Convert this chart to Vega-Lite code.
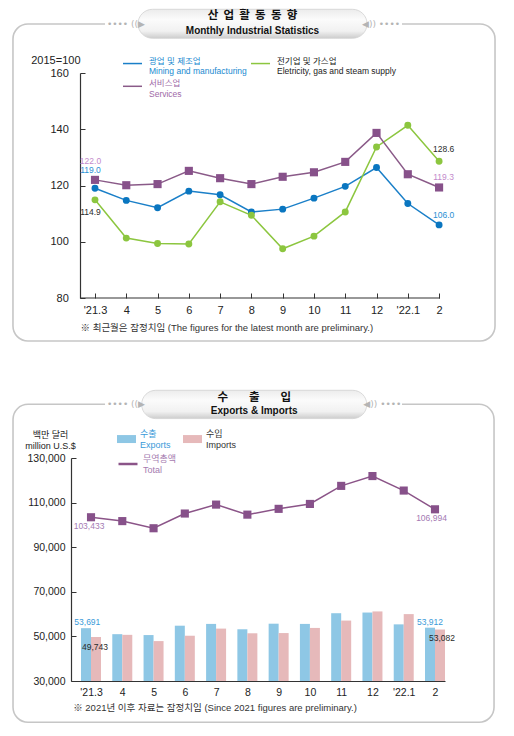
{
  "$schema": "https://vega.github.io/schema/vega-lite/v6.json",
  "background": "white",
  "autosize": {"type": "none"},
  "padding": {"left": 71, "top": 73, "right": 443, "bottom": 663},
  "bounds": "flush",
  "spacing": 160,
  "resolve": {
    "scale": {"fill": "independent", "stroke": "independent", "color": "independent"},
    "legend": {"fill": "independent", "stroke": "independent", "color": "independent"}
  },
  "config": {
    "view": {"stroke": null},
    "axis": {
      "grid": false,
      "domainColor": "#333333",
      "domainWidth": 1.2,
      "tickColor": "#333333",
      "labelColor": "#222222",
      "labelFont": "Liberation Sans, Noto Sans CJK KR",
      "titleFont": "Liberation Sans, Noto Sans CJK KR",
      "titleColor": "#222222",
      "titleFontWeight": "normal"
    },
    "legend": {"labelFont": "Liberation Sans, Noto Sans CJK KR, sans-serif"}
  },
  "datasets": {
    "industry": [
      {"m": "'21.3", "t": 0, "series": "Mining", "v": 119.0},
      {"m": "4", "t": 1, "series": "Mining", "v": 114.7},
      {"m": "5", "t": 2, "series": "Mining", "v": 112.1},
      {"m": "6", "t": 3, "series": "Mining", "v": 118.0},
      {"m": "7", "t": 4, "series": "Mining", "v": 116.7},
      {"m": "8", "t": 5, "series": "Mining", "v": 110.6},
      {"m": "9", "t": 6, "series": "Mining", "v": 111.6},
      {"m": "10", "t": 7, "series": "Mining", "v": 115.5},
      {"m": "11", "t": 8, "series": "Mining", "v": 119.7},
      {"m": "12", "t": 9, "series": "Mining", "v": 126.4},
      {"m": "'22.1", "t": 10, "series": "Mining", "v": 113.6},
      {"m": "2", "t": 11, "series": "Mining", "v": 106.0},
      {"m": "'21.3", "t": 0, "series": "Electricity", "v": 114.9},
      {"m": "4", "t": 1, "series": "Electricity", "v": 101.3},
      {"m": "5", "t": 2, "series": "Electricity", "v": 99.4},
      {"m": "6", "t": 3, "series": "Electricity", "v": 99.2},
      {"m": "7", "t": 4, "series": "Electricity", "v": 114.2},
      {"m": "8", "t": 5, "series": "Electricity", "v": 109.4},
      {"m": "9", "t": 6, "series": "Electricity", "v": 97.5},
      {"m": "10", "t": 7, "series": "Electricity", "v": 102.0},
      {"m": "11", "t": 8, "series": "Electricity", "v": 110.6},
      {"m": "12", "t": 9, "series": "Electricity", "v": 133.7},
      {"m": "'22.1", "t": 10, "series": "Electricity", "v": 141.4},
      {"m": "2", "t": 11, "series": "Electricity", "v": 128.6},
      {"m": "'21.3", "t": 0, "series": "Services", "v": 122.0},
      {"m": "4", "t": 1, "series": "Services", "v": 120.1},
      {"m": "5", "t": 2, "series": "Services", "v": 120.5},
      {"m": "6", "t": 3, "series": "Services", "v": 125.2},
      {"m": "7", "t": 4, "series": "Services", "v": 122.6},
      {"m": "8", "t": 5, "series": "Services", "v": 120.5},
      {"m": "9", "t": 6, "series": "Services", "v": 123.1},
      {"m": "10", "t": 7, "series": "Services", "v": 124.7},
      {"m": "11", "t": 8, "series": "Services", "v": 128.4},
      {"m": "12", "t": 9, "series": "Services", "v": 138.7},
      {"m": "'22.1", "t": 10, "series": "Services", "v": 124.0},
      {"m": "2", "t": 11, "series": "Services", "v": 119.3}
    ],
    "trade": [
      {"m": "'21.3", "t": 0, "kind": "Exports", "v": 53691},
      {"m": "4", "t": 1, "kind": "Exports", "v": 51000},
      {"m": "5", "t": 2, "kind": "Exports", "v": 50600},
      {"m": "6", "t": 3, "kind": "Exports", "v": 54800},
      {"m": "7", "t": 4, "kind": "Exports", "v": 55600},
      {"m": "8", "t": 5, "kind": "Exports", "v": 53200},
      {"m": "9", "t": 6, "kind": "Exports", "v": 55700},
      {"m": "10", "t": 7, "kind": "Exports", "v": 55600},
      {"m": "11", "t": 8, "kind": "Exports", "v": 60400},
      {"m": "12", "t": 9, "kind": "Exports", "v": 60700},
      {"m": "'22.1", "t": 10, "kind": "Exports", "v": 55400},
      {"m": "2", "t": 11, "kind": "Exports", "v": 53912},
      {"m": "'21.3", "t": 0, "kind": "Imports", "v": 49743},
      {"m": "4", "t": 1, "kind": "Imports", "v": 50700},
      {"m": "5", "t": 2, "kind": "Imports", "v": 47900},
      {"m": "6", "t": 3, "kind": "Imports", "v": 50300},
      {"m": "7", "t": 4, "kind": "Imports", "v": 53500},
      {"m": "8", "t": 5, "kind": "Imports", "v": 51400},
      {"m": "9", "t": 6, "kind": "Imports", "v": 51500},
      {"m": "10", "t": 7, "kind": "Imports", "v": 53800},
      {"m": "11", "t": 8, "kind": "Imports", "v": 57100},
      {"m": "12", "t": 9, "kind": "Imports", "v": 61200},
      {"m": "'22.1", "t": 10, "kind": "Imports", "v": 60000},
      {"m": "2", "t": 11, "kind": "Imports", "v": 53082}
    ],
    "total": [
      {"m": "'21.3", "t": 0, "series": "Total", "v": 103433},
      {"m": "4", "t": 1, "series": "Total", "v": 101700},
      {"m": "5", "t": 2, "series": "Total", "v": 98500},
      {"m": "6", "t": 3, "series": "Total", "v": 105100},
      {"m": "7", "t": 4, "series": "Total", "v": 109100},
      {"m": "8", "t": 5, "series": "Total", "v": 104600},
      {"m": "9", "t": 6, "series": "Total", "v": 107200},
      {"m": "10", "t": 7, "series": "Total", "v": 109400},
      {"m": "11", "t": 8, "series": "Total", "v": 117500},
      {"m": "12", "t": 9, "series": "Total", "v": 121900},
      {"m": "'22.1", "t": 10, "series": "Total", "v": 115400},
      {"m": "2", "t": 11, "series": "Total", "v": 106994}
    ]
  },
  "vconcat": [
    {
      "width": 374,
      "height": 225,
      "layer": [
        {
          "data": {"name": "industry"},
          "mark": {"type": "line", "strokeWidth": 1.5},
          "encoding": {
            "x": {
              "field": "t",
              "type": "quantitative",
              "scale": {"domain": [-0.767, 11.189], "nice": false, "zero": false, "padding": 0},
              "axis": {
                "values": [0, 1, 2, 3, 4, 5, 6, 7, 8, 9, 10, 11],
                "tickCount": 12,
                "labelExpr": "[\"'21.3\",\"4\",\"5\",\"6\",\"7\",\"8\",\"9\",\"10\",\"11\",\"12\",\"'22.1\",\"2\"][datum.value]",
                "labelFlush": false,
                "labelOverlap": false,
                "labelFontSize": 11,
                "domain": false,
                "tickSize": -5,
                "labelPadding": 11.5,
                "title": "※ 최근월은 잠정치임 (The figures for the latest month are preliminary.)",
                "titleAnchor": "start",
                "titleAlign": "left",
                "titleBaseline": "middle",
                "titleX": 9,
                "titleY": 29,
                "titleFontSize": 9.5,
                "titleColor": "#333333"
              }
            },
            "y": {
              "field": "v",
              "type": "quantitative",
              "scale": {"domain": [80, 160], "nice": false, "zero": false, "padding": 0},
              "axis": {
                "values": [80, 100, 120, 140, 160],
                "tickCount": 5,
                "offset": -9,
                "labelFontSize": 11,
                "tickSize": -5,
                "labelPadding": 16.7,
                "title": "2015=100",
                "titleAngle": 0,
                "titleAlign": "right",
                "titleBaseline": "middle",
                "titleX": 0,
                "titleY": -13,
                "titleFontSize": 11
              }
            },
            "stroke": {
              "field": "series",
              "type": "nominal",
              "scale": {"domain": ["Mining", "Electricity", "Services"], "range": ["#1a7fc8", "#8cc63f", "#8a5a88"]},
              "legend": {
                "orient": "none",
                "legendX": 51,
                "legendY": -20.2,
                "columns": 2,
                "direction": "horizontal",
                "title": null,
                "symbolType": "stroke",
                "symbolSize": 361,
                "symbolStrokeWidth": 1.5,
                "labelOffset": 6,
                "columnPadding": 1,
                "rowPadding": 0,
                "labelFontSize": 8.5,
                "labelLineHeight": 8.5,
                "labelBaseline": "alphabetic",
                "labelLimit": 0,
                "labelExpr": "datum.label == 'Mining' ? ['광업 및 제조업', 'Mining and manufacturing'] : datum.label == 'Electricity' ? ['전기업 및 가스업', 'Eletricity, gas and steam supply'] : ['서비스업', 'Services']",
                "labelColor": {"expr": "datum.label == 'Mining' ? '#1a8ad0' : datum.label == 'Services' ? '#a06aa8' : '#222222'"}
              }
            }
          }
        },
        {
          "data": {"name": "industry"},
          "transform": [{"filter": "datum.series != 'Services'"}],
          "mark": {"type": "circle", "size": 48, "opacity": 1},
          "encoding": {
            "x": {"field": "t", "type": "quantitative"},
            "y": {"field": "v", "type": "quantitative"},
            "fill": {
              "field": "series",
              "type": "nominal",
              "scale": {"domain": ["Mining", "Electricity", "Services"], "range": ["#0a76c0", "#8cc63f", "#87518a"]},
              "legend": null
            }
          }
        },
        {
          "data": {"name": "industry"},
          "transform": [{"filter": "datum.series == 'Services'"}],
          "mark": {"type": "square", "size": 66, "opacity": 1},
          "encoding": {
            "x": {"field": "t", "type": "quantitative"},
            "y": {"field": "v", "type": "quantitative"},
            "fill": {"field": "series", "type": "nominal", "legend": null}
          }
        },
        {
          "data": {"name": "industry"},
          "transform": [{"filter": "datum.t == 0 || datum.t == 11"}],
          "mark": {
            "type": "text",
            "font": "Liberation Sans",
            "fontSize": 8.5,
            "align": "center",
            "baseline": "middle",
            "dx": {"expr": "datum.t == 0 ? -4.5 : 4.5"},
            "dy": {"expr": "datum.t == 0 ? (datum.series == 'Services' ? -19 : datum.series == 'Mining' ? -18 : 12) : (datum.series == 'Electricity' ? -12 : -10)"}
          },
          "encoding": {
            "x": {"field": "t", "type": "quantitative"},
            "y": {"field": "v", "type": "quantitative"},
            "text": {"field": "v", "type": "quantitative", "format": ".1f"},
            "color": {
              "field": "series",
              "type": "nominal",
              "scale": {"domain": ["Mining", "Electricity", "Services"], "range": ["#2b8fd3", "#2a2a2a", "#c38acb"]},
              "legend": null
            }
          }
        },
        {
          "data": {"values": [{}]},
          "mark": {"type": "rule", "color": "#333333", "strokeWidth": 1.2},
          "encoding": {
            "x": {"datum": -0.48, "type": "quantitative"},
            "x2": {"datum": 11.03},
            "y": {"datum": 80, "type": "quantitative"}
          }
        },
        {
          "data": {"values": [{}]},
          "mark": {"type": "rect", "fill": "transparent", "stroke": "#c6c6c6", "strokeWidth": 1.6, "cornerRadius": 15},
          "encoding": {
            "x": {"datum": -2.622, "type": "quantitative"},
            "x2": {"datum": 12.788},
            "y": {"datum": 177.42, "type": "quantitative"},
            "y2": {"datum": 64.71}
          }
        },
        {
          "data": {"values": [{}]},
          "mark": {"type": "rect", "fill": "white"},
          "encoding": {
            "x": {"datum": 0.32, "type": "quantitative"},
            "x2": {"datum": 9.815},
            "y": {"datum": 179.2, "type": "quantitative"},
            "y2": {"datum": 175.64}
          }
        },
        {
          "data": {"values": [{}]},
          "mark": {
            "type": "rect",
            "cornerRadius": 14.5,
            "stroke": "#d2d2d2",
            "strokeWidth": 0.8,
            "fill": {
              "gradient": "linear", "x1": 0, "y1": 0, "x2": 0, "y2": 1,
              "stops": [
                {"offset": 0, "color": "#ececec"},
                {"offset": 0.35, "color": "#fbfbfb"},
                {"offset": 0.75, "color": "#f1f1f1"},
                {"offset": 1, "color": "#cdcdcd"}
              ]
            }
          },
          "encoding": {
            "x": {"datum": 1.375, "type": "quantitative"},
            "x2": {"datum": 8.696},
            "y": {"datum": 182.65, "type": "quantitative"},
            "y2": {"datum": 172.34}
          }
        },
        {
          "data": {"values": [{}]},
          "mark": {"type": "text", "text": "산\u00a0\u00a0업\u00a0\u00a0활\u00a0\u00a0동\u00a0\u00a0동\u00a0\u00a0향", "font": "Noto Sans CJK KR", "fontWeight": "bold", "fontSize": 11.5, "color": "#111111", "align": "center", "baseline": "middle"},
          "encoding": {
            "x": {"datum": 5.035, "type": "quantitative"},
            "y": {"datum": 180.27, "type": "quantitative"}
          }
        },
        {
          "data": {"values": [{}]},
          "mark": {"type": "text", "text": "Monthly Industrial Statistics", "font": "Liberation Sans", "fontWeight": "bold", "fontSize": 10, "color": "#111111", "align": "center", "baseline": "middle"},
          "encoding": {
            "x": {"datum": 5.035, "type": "quantitative"},
            "y": {"datum": 174.93, "type": "quantitative"}
          }
        },
        {
          "data": {"values": [{}]},
          "mark": {"type": "text", "text": "•••• ((▶", "font": "DejaVu Sans", "fontSize": 9, "color": "#b4b4b4", "align": "right", "baseline": "middle"},
          "encoding": {
            "x": {"datum": 1.598, "type": "quantitative"},
            "y": {"datum": 177.42, "type": "quantitative"}
          }
        },
        {
          "data": {"values": [{}]},
          "mark": {"type": "text", "text": "◀)) ••••", "font": "DejaVu Sans", "fontSize": 9, "color": "#b4b4b4", "align": "left", "baseline": "middle"},
          "encoding": {
            "x": {"datum": 8.536, "type": "quantitative"},
            "y": {"datum": 177.42, "type": "quantitative"}
          }
        }
      ]
    },
    {
      "width": 374,
      "height": 223,
      "layer": [
        {
          "data": {"name": "trade"},
          "transform": [{"filter": "datum.kind == 'Exports'"}],
          "mark": {"type": "bar", "width": 10, "xOffset": -5},
          "encoding": {
            "x": {
              "field": "t",
              "type": "quantitative",
              "scale": {"domain": [-0.64, 11.32], "nice": false, "zero": false, "padding": 0},
              "axis": {
                "values": [0, 1, 2, 3, 4, 5, 6, 7, 8, 9, 10, 11],
                "tickCount": 12,
                "labelExpr": "[\"'21.3\",\"4\",\"5\",\"6\",\"7\",\"8\",\"9\",\"10\",\"11\",\"12\",\"'22.1\",\"2\"][datum.value]",
                "labelFlush": false,
                "labelOverlap": false,
                "labelFontSize": 10.5,
                "ticks": false,
                "labelPadding": 6,
                "title": "※ 2021년 이후 자료는 잠정치임 (Since 2021 figures are preliminary.)",
                "titleAnchor": "start",
                "titleAlign": "left",
                "titleBaseline": "middle",
                "titleX": 1.7,
                "titleY": 26,
                "titleFontSize": 9.5,
                "titleColor": "#333333"
              }
            },
            "y": {
              "field": "v",
              "type": "quantitative",
              "scale": {"domain": [30000, 130000], "nice": false, "zero": false, "padding": 0},
              "axis": {
                "values": [30000, 50000, 70000, 90000, 110000, 130000],
                "tickCount": 6,
                "format": ",d",
                "labelFontSize": 10.5,
                "tickSize": -5,
                "labelPadding": 11,
                "title": ["백만 달러", "million U.S.$"],
                "titleAngle": 0,
                "titleAlign": "center",
                "titleBaseline": "middle",
                "titleLineHeight": 11.4,
                "titleX": -21,
                "titleY": -23.4,
                "titleFontSize": 9
              }
            },
            "y2": {"datum": 30000},
            "fill": {
              "field": "kind",
              "type": "nominal",
              "scale": {"domain": ["Exports", "Imports"], "range": ["#8ec7e5", "#e6b9ba"]},
              "legend": {
                "orient": "none",
                "legendX": 46,
                "legendY": -28.7,
                "direction": "horizontal",
                "title": null,
                "symbolType": "M-1,-0.42H1V0.42H-1Z",
                "symbolSize": 361,
                "symbolStrokeWidth": 0,
                "labelOffset": 4,
                "columnPadding": 12,
                "labelFontSize": 9,
                "labelLineHeight": 10,
                "labelBaseline": "bottom",
                "labelExpr": "datum.label == 'Exports' ? ['수출', 'Exports'] : ['수입', 'Imports']",
                "labelColor": {"expr": "datum.label == 'Exports' ? '#3a9ad9' : '#333333'"}
              }
            }
          }
        },
        {
          "data": {"name": "trade"},
          "transform": [{"filter": "datum.kind == 'Imports'"}],
          "mark": {"type": "bar", "width": 10, "xOffset": 5},
          "encoding": {
            "x": {"field": "t", "type": "quantitative"},
            "y": {"field": "v", "type": "quantitative"},
            "y2": {"datum": 30000},
            "fill": {"field": "kind", "type": "nominal"}
          }
        },
        {
          "data": {"name": "total"},
          "mark": {"type": "line", "strokeWidth": 1.5},
          "encoding": {
            "x": {"field": "t", "type": "quantitative"},
            "y": {"field": "v", "type": "quantitative"},
            "stroke": {
              "field": "series",
              "type": "nominal",
              "scale": {"domain": ["Total"], "range": ["#8b5488"]},
              "legend": {
                "orient": "none",
                "legendX": 46,
                "legendY": -5,
                "title": null,
                "symbolType": "stroke",
                "symbolSize": 361,
                "symbolStrokeWidth": 2.5,
                "labelOffset": 4,
                "labelFontSize": 9,
                "labelLineHeight": 10,
                "labelBaseline": "bottom",
                "labelExpr": "['무역총액', 'Total']",
                "labelColor": "#a57bb0"
              }
            }
          }
        },
        {
          "data": {"name": "total"},
          "mark": {"type": "square", "size": 66, "opacity": 1, "color": "#87518a"},
          "encoding": {
            "x": {"field": "t", "type": "quantitative"},
            "y": {"field": "v", "type": "quantitative"}
          }
        },
        {
          "data": {"name": "trade"},
          "transform": [{"filter": "datum.t == 0 || datum.t == 11"}],
          "mark": {
            "type": "text",
            "font": "Liberation Sans",
            "fontSize": 8.5,
            "align": "center",
            "baseline": "middle",
            "dx": {"expr": "datum.kind == 'Exports' ? (datum.t == 0 ? -3.7 : -5) : (datum.t == 0 ? 4 : 7)"},
            "dy": {"expr": "datum.kind == 'Exports' ? -6 : (datum.t == 0 ? 10 : 8.5)"}
          },
          "encoding": {
            "x": {"field": "t", "type": "quantitative"},
            "y": {"field": "v", "type": "quantitative"},
            "text": {"field": "v", "type": "quantitative", "format": ",d"},
            "color": {
              "field": "kind",
              "type": "nominal",
              "scale": {"domain": ["Exports", "Imports"], "range": ["#3a9ad9", "#2a2a2a"]},
              "legend": null
            }
          }
        },
        {
          "data": {"name": "total"},
          "transform": [{"filter": "datum.t == 0 || datum.t == 11"}],
          "mark": {
            "type": "text",
            "font": "Liberation Sans",
            "fontSize": 8.5,
            "align": "center",
            "baseline": "middle",
            "color": "#a47ab3",
            "dx": {"expr": "datum.t == 0 ? -2 : -3.5"},
            "dy": 9
          },
          "encoding": {
            "x": {"field": "t", "type": "quantitative"},
            "y": {"field": "v", "type": "quantitative"},
            "text": {"field": "v", "type": "quantitative", "format": ",d"}
          }
        },
        {
          "data": {"values": [{}]},
          "mark": {"type": "rect", "fill": "transparent", "stroke": "#c6c6c6", "strokeWidth": 1.6, "cornerRadius": 15},
          "encoding": {
            "x": {"datum": -2.494, "type": "quantitative"},
            "x2": {"datum": 12.888},
            "y": {"datum": 154080, "type": "quantitative"},
            "y2": {"datum": 11480}
          }
        },
        {
          "data": {"values": [{}]},
          "mark": {"type": "rect", "fill": "white"},
          "encoding": {
            "x": {"datum": 0.448, "type": "quantitative"},
            "x2": {"datum": 9.946},
            "y": {"datum": 156323, "type": "quantitative"},
            "y2": {"datum": 151839}
          }
        },
        {
          "data": {"values": [{}]},
          "mark": {
            "type": "rect",
            "cornerRadius": 14,
            "stroke": "#d2d2d2",
            "strokeWidth": 0.8,
            "fill": {
              "gradient": "linear", "x1": 0, "y1": 0, "x2": 0, "y2": 1,
              "stops": [
                {"offset": 0, "color": "#ececec"},
                {"offset": 0.35, "color": "#fbfbfb"},
                {"offset": 0.75, "color": "#f1f1f1"},
                {"offset": 1, "color": "#cdcdcd"}
              ]
            }
          },
          "encoding": {
            "x": {"datum": 1.621, "type": "quantitative"},
            "x2": {"datum": 8.817},
            "y": {"datum": 160359, "type": "quantitative"},
            "y2": {"datum": 147668}
          }
        },
        {
          "data": {"values": [{}]},
          "mark": {"type": "text", "text": "수\u00a0\u00a0\u00a0\u00a0\u00a0\u00a0\u00a0\u00a0출\u00a0\u00a0\u00a0\u00a0\u00a0\u00a0\u00a0\u00a0입", "font": "Noto Sans CJK KR", "fontWeight": "bold", "fontSize": 11.5, "color": "#111111", "align": "center", "baseline": "middle"},
          "encoding": {
            "x": {"datum": 5.219, "type": "quantitative"},
            "y": {"datum": 157085, "type": "quantitative"}
          }
        },
        {
          "data": {"values": [{}]},
          "mark": {"type": "text", "text": "Exports & Imports", "font": "Liberation Sans", "fontWeight": "bold", "fontSize": 10, "color": "#111111", "align": "center", "baseline": "middle"},
          "encoding": {
            "x": {"datum": 5.219, "type": "quantitative"},
            "y": {"datum": 150942, "type": "quantitative"}
          }
        },
        {
          "data": {"values": [{}]},
          "mark": {"type": "text", "text": "•••• ((▶", "font": "DejaVu Sans", "fontSize": 9, "color": "#b4b4b4", "align": "right", "baseline": "middle"},
          "encoding": {
            "x": {"datum": 1.727, "type": "quantitative"},
            "y": {"datum": 154080, "type": "quantitative"}
          }
        },
        {
          "data": {"values": [{}]},
          "mark": {"type": "text", "text": "◀)) ••••", "font": "DejaVu Sans", "fontSize": 9, "color": "#b4b4b4", "align": "left", "baseline": "middle"},
          "encoding": {
            "x": {"datum": 8.708, "type": "quantitative"},
            "y": {"datum": 154080, "type": "quantitative"}
          }
        }
      ]
    }
  ]
}
